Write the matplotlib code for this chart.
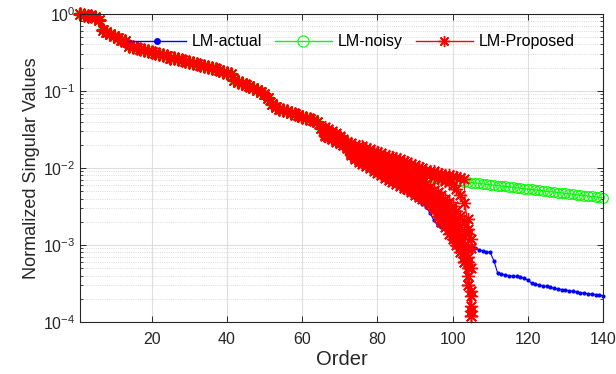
import numpy as np
import matplotlib
matplotlib.use("Agg")
import matplotlib.pyplot as plt
from matplotlib.ticker import LogLocator, NullFormatter

plt.rcParams['font.family'] = ['Liberation Sans', 'DejaVu Sans']

# normalized singular values of the noisy Loewner matrix, orders 1..140
sv_noisy = [
    1.0, 0.97, 0.95, 0.93, 0.90, 0.84, 0.62, 0.58, 0.55, 0.52,
    0.49, 0.46, 0.44, 0.38, 0.37, 0.36, 0.35, 0.34, 0.33, 0.32,
    0.31, 0.30, 0.29, 0.28, 0.27, 0.265, 0.26, 0.25, 0.245, 0.235,
    0.23, 0.225, 0.22, 0.21, 0.205, 0.20, 0.19, 0.185, 0.178, 0.172,
    0.165, 0.14, 0.13, 0.125, 0.12, 0.115, 0.108, 0.102, 0.097, 0.092,
    0.08, 0.068, 0.062, 0.059, 0.056, 0.054, 0.052, 0.050, 0.048, 0.046,
    0.045, 0.043, 0.042, 0.040, 0.033, 0.029, 0.027, 0.026, 0.025, 0.024,
    0.023, 0.022, 0.019, 0.0145, 0.0138, 0.0133, 0.0128, 0.0124, 0.012, 0.0116,
    0.0112, 0.0108, 0.0104, 0.0101, 0.0098, 0.0094, 0.0091, 0.0088, 0.0086, 0.0084,
    0.0082, 0.008, 0.0078, 0.0076, 0.0075, 0.0073, 0.0072, 0.0071, 0.007, 0.0069,
    .00681, .00672, .00663, .00655, .00646, .00638, .0063, .00622, .00614, .00606,
    .00598, .0059, .00583, .00575, .00568, .0056, .00553, .00546, .00539, .00532,
    .00525, .00518, .00511, .00505, .00498, .00492, .00485, .00479, .00473, .00467,
    .00461, .00455, .00449, .00443, .00437, .00432, .00426, .00421, .00415, .0041,
]

# noise-free case: same as noisy up to order 79, then orders 80..140
sv_actual_tail = [
    0.0112, 0.0104, 0.0096, 0.0088, 0.0080, 0.0072, 0.0064, 0.0057, 0.0050, 0.0045,
    0.0041, 0.0037, 0.0034, 0.0031, 0.0026, 0.0021, 0.0018, 0.0017, 0.0016, 0.0015,
    0.0014, 0.0012, 0.0011, 0.0010, 0.00096, 0.00093, 0.0009, 0.00087, 0.00084, 0.00082,
    0.0008, 0.00062, 0.00043, 0.00042, 0.00041, 0.0004, 0.000395, 0.00039, 0.000385, 0.00037,
    0.00035, 0.00032, 0.00031, 0.000303, 0.000296, 0.00029, 0.000282, 0.000275, 0.00027, 0.000264,
    0.00026, 0.000255, 0.00025, 0.000245, 0.00024, 0.000237, 0.000233, 0.00023, 0.000227, 0.000224,
    0.00022,
]
sv_actual = sv_noisy[:79] + sv_actual_tail

# proposed method: runs share orders 1..65, each run continues from order 66
proposed_runs = [
    [.034, .032, .030, .028, .026, .024, .022, .021, .020, .0195, .019, .018, .0175, .0168, .016,
     .0154, .0148, .0143, .0139, .0134, .013, .0124, .0118, .0113, .0108, .0103, .0099, .0095, .0092,
     .009, .0087, .0084, .0082, .008, .0078, .0076, .0074, .0072, .0014],
    [.031, .030, .028, .026, .025, .023, .021, .019, .018, .0172, .0165, .016, .0153, .0147, .0141,
     .0135, .013, .0125, .012, .0115, .011, .0105, .0101, .0097, .0093, .009, .0086, .0083, .008,
     .0077, .0074, .0071, .0068, .0065, .006, .0054, .0045, .0035, .0022, .0009],
    [.030, .029, .027, .025, .024, .022, .021, .018, .0165, .016, .0155, .015, .0145, .014, .0135,
     .013, .0124, .0118, .0112, .0106, .01, .0094, .0088, .0082, .0077, .0072, .0067, .0062, .0057,
     .0052, .0048, .0044, .004, .0036, .0032, .0028, .0024, .002, .0016, .0012],
    [.029, .027, .026, .024, .023, .021, .020, .017, .0155, .015, .0143, .0137, .0131, .0125, .0119,
     .0113, .0107, .0101, .0095, .0089, .0084, .0079, .0074, .0069, .0064, .0059, .0054, .0049, .0045,
     .0041, .0037, .0033, .0029, .0026, .0023, .002, .0017, .0013, .0009, .0005],
    [.029, .028, .026, .025, .023, .022, .020, .0165, .015, .0145, .0139, .0133, .0127, .0121, .0115,
     .0109, .0103, .0097, .0091, .0086, .0081, .0076, .0071, .0066, .0061, .0056, .0051, .0047, .0043,
     .0039, .0035, .0031, .0027, .0023, .0019, .0015, .0012, .0009, .0006, .00025],
    [.028, .027, .025, .024, .022, .021, .019, .0158, .0143, .0137, .013, .0123, .0116, .011, .0104,
     .0098, .0092, .0087, .0082, .0077, .0072, .0067, .0062, .0057, .0053, .0049, .0045, .0041, .0037,
     .0034, .0031, .0028, .0025, .0022, .0019, .0016, .0013, .001, .0007, .00012],
    [.028, .026, .025, .024, .022, .021, .019, .016, .0148, .0141, .0134, .0127, .012, .0114, .0108,
     .0102, .0096, .009, .0085, .008, .0075, .007, .0065, .006, .0055, .005, .0045, .0041, .0037,
     .0033, .0029, .0026, .0023, .002, .0017, .0014, .0011, .0008, .0005, .00016],
    [.027, .026, .024, .023, .022, .020, .019, .0155, .014, .0133, .0126, .0119, .0112, .0106, .01,
     .0094, .0088, .0083, .0078, .0073, .0068, .0063, .0059, .0055, .0051, .0047, .0043, .0039, .0035,
     .0031, .0027, .0024, .0021, .0018, .0015, .0012, .0009, .0006, .0004, .00022],
    [.027, .025, .024, .023, .021, .020, .018, .015, .0135, .0127, .012, .0113, .0106, .01, .0094,
     .0088, .0082, .0077, .0072, .0067, .0063, .0059, .0055, .0051, .0048, .0045, .0042, .0039, .0036,
     .0032, .0026, .0022, .0019, .0016, .0013, .0011, .0009, .0007, .0003, .00012],
    [.026, .025, .024, .022, .021, .020, .018, .0145, .013, .0121, .0113, .0106, .0099, .0092, .0086,
     .008, .0075, .007, .0065, .0061, .0058, .0055, .0053, .0049, .0045, .0042, .0039, .0037, .0034,
     .0029, .0024, .002, .0017, .0014, .0012, .001, .0008, .0006, .0003, .00014],
]
proposed_trunk = sv_noisy[:65]

fig = plt.figure(figsize=(6.16, 3.74), dpi=100)
ax = fig.add_axes([0.130, 0.139, 0.849, 0.824])

ax.semilogy(np.arange(1, len(sv_actual) + 1), sv_actual, '.-', color='blue',
            lw=0.8, ms=4, label='LM-actual', clip_on=False)
ax.semilogy(np.arange(1, len(sv_noisy) + 1), sv_noisy, '-', color='#00ff00',
            marker='o', mfc='none', ms=7, mew=0.8, lw=0.8, label='LM-noisy', clip_on=False)
for i, run in enumerate(proposed_runs):
    y = proposed_trunk + run
    ax.semilogy(np.arange(1, len(y) + 1), y, '-', color='red', marker=(8, 2, 0),
                ms=9.5, mew=1.0, lw=0.7, clip_on=False,
                label='LM-Proposed' if i == 0 else None)

ax.set_xlim(1, 140)
ax.set_ylim(1e-4, 1)
ax.set_xticks([20, 40, 60, 80, 100, 120, 140])
ax.yaxis.set_minor_locator(LogLocator(base=10, subs=np.arange(2, 10)))
ax.yaxis.set_minor_formatter(NullFormatter())

frame = '#262626'
for s in ax.spines.values():
    s.set_color(frame)
    s.set_linewidth(0.8)
ax.tick_params(which='both', direction='in', top=True, right=True, colors=frame,
               labelsize=11.5)
ax.tick_params(which='major', length=4, width=0.7)
ax.tick_params(which='minor', length=2.5, width=0.6)
ax.tick_params(axis='x', which='minor', bottom=False, top=False)
ax.tick_params(axis='x', which='major', pad=7)

ax.grid(which='major', axis='both', color='#dedede', lw=0.8)
ax.grid(which='minor', axis='y', color='#cfcfcf', lw=0.6, ls=':')
ax.set_axisbelow(True)

ax.set_xlabel('Order', fontsize=14.5, color=frame, labelpad=2)
ax.set_ylabel('Normalized Singular Values', fontsize=13, color=frame, labelpad=2)

leg = ax.legend(loc='center', bbox_to_anchor=(0.519, 0.909), ncol=3, frameon=False,
                fontsize=11.5, handlelength=3.6, handletextpad=0.35, columnspacing=0.8,
                borderaxespad=0)
for h in leg.legend_handles:
    h.set_markersize(8)
    h.set_linewidth(1.0)

fig.savefig('out.png', dpi=100)
